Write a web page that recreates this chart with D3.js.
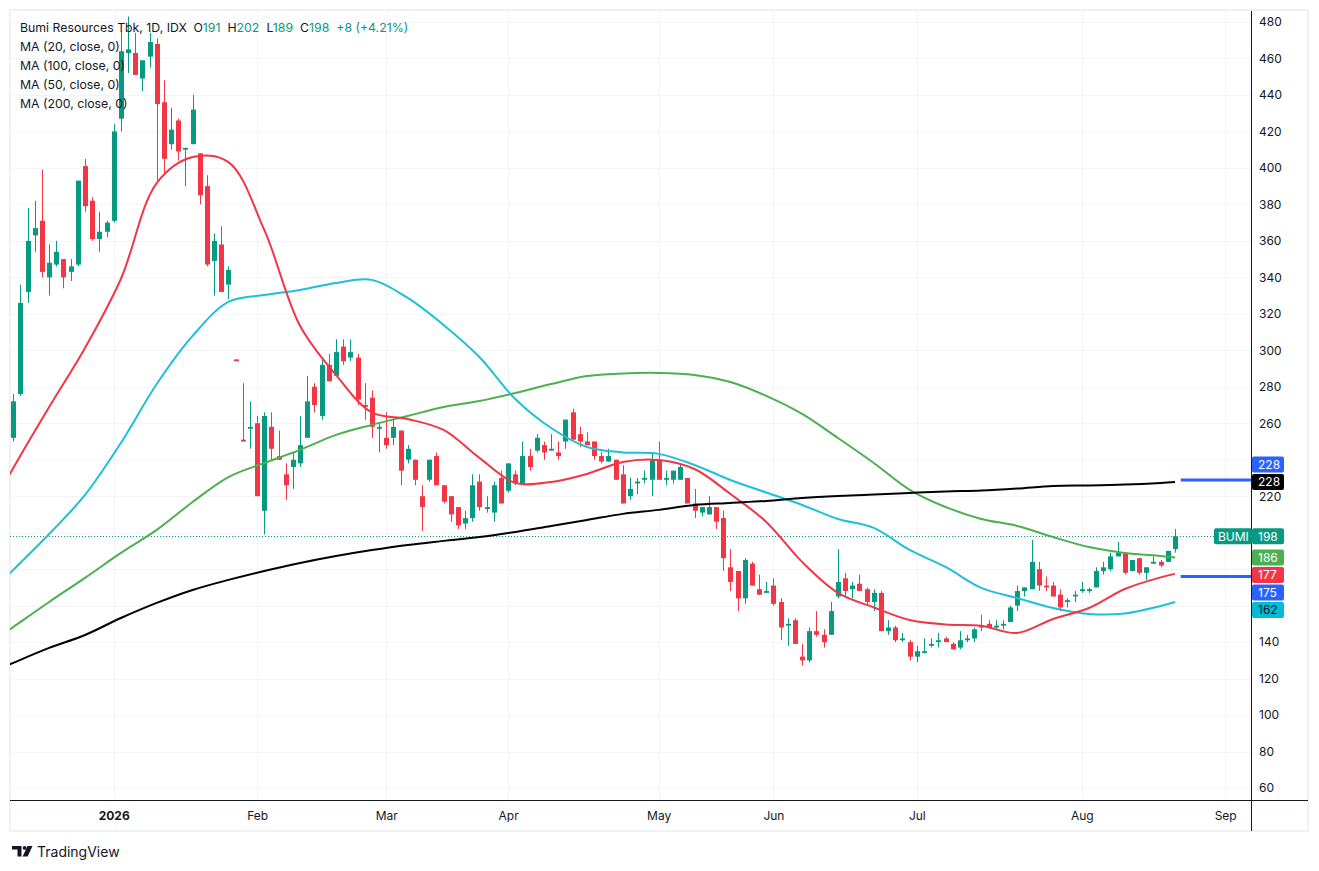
<!DOCTYPE html>
<html>
<head>
<meta charset="utf-8">
<script src="https://cdn.jsdelivr.net/npm/d3@7"></script>
<style>
  body { margin: 0; background: #fff; }
  svg { display: block; font-family: Inter, "Noto Sans", sans-serif; }
</style>
</head>
<body>
<div id="chart"></div>
<script>
// daily candles, Bumi Resources Tbk (IDX), mid Dec 2025 .. Aug 2026
const open = [252,276,332,363,371,340,347,350,343,347, 401,382,361,365,371,427,463,463,449,461,
  468,436,413,426,410,413,408,390,349,358, 336,295,251,257,260,212,258,242,232,236,
  238,252,280,264,292,286,302,296,296,270, 274,257,252,252,256,240,240,220,229,242,
  226,220,214,205,208,228,213,211,230,223, 232,227,242,245,248,245,244,250,266,254,
  250,250,242,239,240,232,220,227,229,229, 240,229,229,229,230,216,211,210,214,208,
  181,179,164,183,169,167,171,162,149,152, 132,130,146,144,144,165,175,169,172,169,
  162,167,146,148,141,140,132,134,138,140, 142,139,137,141,142,148,150,148,149,151,
  160,168,169,180,171,171,166,162,165,168, 168,170,179,180,187,189,179,186,178,183,
  184,184,191];
const high = [276,336,378,382,399,358,360,350,350,393, 405,384,376,371,424,475,483,474,459,474,
  471,448,433,427,411,440,408,396,364,368, 346,295,282,272,264,266,266,256,238,244,
  264,286,282,296,298,306,306,306,298,282, 278,260,266,262,256,248,240,226,240,244,
  226,220,214,212,232,232,220,228,234,238, 234,250,246,254,250,254,250,262,268,258,
  255,250,244,246,240,237,230,230,234,244, 250,234,234,238,230,224,214,220,214,212,
  191,179,186,184,177,173,175,164,153,153, 139,148,157,147,162,191,178,173,177,170,
  169,168,152,149,145,141,138,142,142,145, 143,140,146,144,148,155,152,152,152,160,
  171,170,196,184,176,173,169,164,168,173, 170,181,184,189,195,189,185,186,181,187,
  185,190,202];
const low = [250,275,326,354,340,330,346,334,338,346, 376,360,354,362,370,420,452,451,442,455,
  393,396,410,404,390,413,380,346,330,332, 328,294,250,246,220,199,240,240,218,224,
  236,252,266,262,283,286,292,294,270,262, 252,244,246,248,226,238,226,201,228,226,
  216,206,202,202,206,212,211,206,216,222, 226,227,234,244,240,245,240,246,251,247,
  248,240,238,239,229,216,218,221,227,220, 229,226,227,229,216,208,209,210,202,179,
  168,157,161,171,166,167,160,141,138,139, 127,129,143,137,144,164,165,164,168,160,
  157,146,144,140,140,130,129,134,137,137, 140,136,136,140,140,146,148,147,147,151,
  157,165,169,168,168,165,157,159,162,167, 167,170,177,179,187,177,179,177,174,183,
  181,184,189];
const close = [272,326,360,367,343,348,354,340,346,393, 379,361,365,370,420,464,465,451,459,469,
  435,405,421,409,411,432,385,347,360,332, 344,294,250,258,220,264,246,240,226,240,
  248,272,270,292,283,299,294,299,273,269, 258,258,248,258,234,246,229,214,240,226,
  217,210,204,208,226,214,214,226,216,238, 227,242,236,252,244,246,242,262,251,250,
  248,242,239,242,229,216,224,228,230,240, 229,230,234,236,216,212,214,214,206,186,
  173,164,185,171,166,168,161,148,150,139, 130,146,144,140,157,173,168,171,168,162,
  167,146,148,141,142,132,135,135,139,141, 140,136,141,142,147,149,148,149,150,159,
  168,170,184,171,170,165,159,163,166,169, 169,179,181,187,189,178,185,178,181,184,
  182,190,198];

// moving averages at these candle indices
const maIdx = [-1,0,5,10,15,20,25,30,35,40,45,50,55,60,65,70,75,80,85,90,95,100,105,110,115,120,125,130,135,140,145,150,155,160,162];
const ma20 = [228.4,235.5,268.9,301.3,339.1,391.7,406,403.2,366,313.3,286.5,265.9,262.3,256.3,241,227.3,227.8,232.2,238.8,239.9,
  234.9,221.2,205.9,184,167,159,152.1,149.7,148.9,145,152.7,158.7,169.1,175.5,177.4];
const ma50 = [175.7,179.6,199.3,220.7,249.2,281.5,307.9,326.5,330.3,333.1,336.9,338.6,328.7,313.9,296.3,273.3,257.4,247,244,243.2,
  237.1,228.9,222,215.2,207.5,202.6,190.5,181.2,169.7,164.2,158.7,155.4,155.7,159.8,162];
const ma100 = [145.6,148.3,162,175.2,188.9,201.5,216.8,230.5,238.2,245.4,253.6,259.1,264,268.9,272.2,276.6,281.5,285.9,287.3,287.6,
  286.5,282.6,275,265.1,251.9,238.2,223.5,214.1,207.5,203.7,197.6,192.1,188.9,187.2,186.4];
const ma200 = [126.9,128.6,136.8,143.9,153.2,161.5,168.6,174.1,179,183.4,187.2,190.5,193.3,195.5,197.6,200.4,203.7,207,210.3,212.5,
  215.2,216.3,217.4,219,220.1,220.9,221.8,222.6,223.1,224.2,225.6,225.9,226.4,227.3,227.8];

// two horizontal levels at the right edge
const levels = [228.9, 176.0];
const levelLabels = ["228", "175"];

// time axis: candle index where each month label sits
const monthIdx = [14, 34, 52, 69, 90, 106, 126, 149, 169];
const monthLabels = ["2026", "Feb", "Mar", "Apr", "May", "Jun", "Jul", "Aug", "Sep"];
const priceTicks = d3.range(60, 481, 20);

const W = 1319, H = 871;
const pL = 10, pR = 1251, pT = 11, pB = 800;
const up = "#089981", down = "#f23645";
const ink = "#131722";

const x = d3.scaleLinear().domain([-0.46, 172.6]).range([pL, pR]);
const y = d3.scaleLinear().domain([60, 480]).range([788, 22]);

const svg = d3.select("#chart").append("svg")
  .attr("width", W).attr("height", H);

svg.append("rect").attr("width", W).attr("height", H).attr("fill", "#fff");

// outer frame
svg.append("rect")
  .attr("x", 10).attr("y", 10).attr("width", 1298).attr("height", 821)
  .attr("fill", "none").attr("stroke", "#eff1f5").attr("stroke-width", 2);

svg.append("defs").append("clipPath").attr("id", "plot")
  .append("rect").attr("x", pL).attr("y", pT)
  .attr("width", pR - pL).attr("height", pB - pT);

// grid
const grid = svg.append("g").attr("stroke", "#f3f4f7").attr("stroke-width", 1);
grid.selectAll(".h").data(priceTicks).join("line").attr("class", "h")
  .attr("x1", pL).attr("x2", pR)
  .attr("y1", d => Math.round(y(d)) + 0.5).attr("y2", d => Math.round(y(d)) + 0.5);
grid.selectAll(".v").data(monthIdx).join("line").attr("class", "v")
  .attr("y1", pT).attr("y2", pB)
  .attr("x1", d => Math.round(x(d)) + 0.5).attr("x2", d => Math.round(x(d)) + 0.5);

const plot = svg.append("g").attr("clip-path", "url(#plot)");

// last close dotted line
const last = close.length - 1;
plot.append("line")
  .attr("x1", pL).attr("x2", pR)
  .attr("y1", Math.round(y(close[last])) + 0.5).attr("y2", Math.round(y(close[last])) + 0.5)
  .attr("stroke", up).attr("stroke-width", 1).attr("stroke-dasharray", "1,2");

// candles
const bw = 5;
const candles = plot.append("g").selectAll("g").data(d3.range(close.length)).join("g")
  .attr("fill", i => close[i] < open[i] ? down : up)
  .attr("stroke", i => close[i] < open[i] ? down : up);

candles.append("line")
  .attr("x1", i => Math.round(x(i)) + 0.5).attr("x2", i => Math.round(x(i)) + 0.5)
  .attr("y1", i => y(high[i])).attr("y2", i => y(low[i]))
  .attr("stroke-width", 1);

candles.append("rect")
  .attr("stroke", "none")
  .attr("x", i => Math.round(x(i)) - 2)
  .attr("width", bw)
  .attr("y", i => y(Math.max(open[i], close[i])))
  .attr("height", i => Math.max(1.5, Math.abs(y(open[i]) - y(close[i]))));

// moving averages
const line = d3.line()
  .x(d => x(d[0])).y(d => y(d[1]))
  .curve(d3.curveCatmullRom.alpha(0.5));

const maSeries = [
  { values: ma100, color: "#4caf50" },
  { values: ma50, color: "#1ec0d8" },
  { values: ma20, color: "#f23645" },
  { values: ma200, color: "#000000" }
];
maSeries.forEach(s => {
  plot.append("path")
    .attr("d", line(maIdx.map((k, j) => [k, s.values[j]])))
    .attr("fill", "none").attr("stroke", s.color)
    .attr("stroke-width", 2).attr("stroke-linejoin", "round");
});

// level lines near the price scale
levels.forEach(v => {
  svg.append("line")
    .attr("x1", x(last + 0.8)).attr("x2", pR)
    .attr("y1", y(v)).attr("y2", y(v))
    .attr("stroke", "#2962ff").attr("stroke-width", 3);
});

// axes lines
svg.append("line").attr("x1", pR + 0.5).attr("x2", pR + 0.5)
  .attr("y1", pT).attr("y2", 831).attr("stroke", ink).attr("stroke-width", 1);
svg.append("line").attr("x1", pL).attr("x2", 1308)
  .attr("y1", pB + 0.5).attr("y2", pB + 0.5).attr("stroke", ink).attr("stroke-width", 1);

// price-scale tags, stacked so they do not overlap
const tags = [
  { v: close[last], text: String(close[last]), fill: up, color: "#fff", rank: 5 },
  { v: ma200[ma200.length - 1], text: d3.format(".0f")(ma200[ma200.length - 1]), fill: "#000", color: "#fff", rank: 4 },
  { v: ma100[ma100.length - 1], text: d3.format(".0f")(ma100[ma100.length - 1]), fill: "#4caf50", color: "#fff", rank: 3 },
  { v: ma20[ma20.length - 1], text: d3.format(".0f")(ma20[ma20.length - 1]), fill: "#f23645", color: "#fff", rank: 2 },
  { v: ma50[ma50.length - 1], text: d3.format(".0f")(ma50[ma50.length - 1]), fill: "#00bcd4", color: "#131722", rank: 1 },
  { v: levels[0], text: levelLabels[0], fill: "#2962ff", color: "#fff", rank: 0 },
  { v: levels[1], text: levelLabels[1], fill: "#2962ff", color: "#fff", rank: 0 }
];
const th = 17.5;
tags.forEach(t => { t.y0 = y(t.v); });
tags.sort((a, b) => a.y0 - b.y0);
let cluster = [];
const clusters = [];
tags.forEach((t, i) => {
  if (i > 0 && t.y0 < tags[i - 1].y + th) {
    t.y = tags[i - 1].y + th;
    cluster.push(t);
  } else {
    t.y = t.y0;
    cluster = [t];
    clusters.push(cluster);
  }
});
clusters.forEach(c => {
  const anchor = c.reduce((a, b) => (b.rank > a.rank ? b : a));
  const shift = anchor.y0 - anchor.y;
  c.forEach(t => { t.y += shift; });
});

// price axis (labels hidden under a tag are left out)
const shownTicks = priceTicks.filter(v => !tags.some(t => Math.abs(t.y - y(v)) < 10));
const yAxis = svg.append("g")
  .attr("transform", `translate(${pR},0)`)
  .call(d3.axisRight(y).tickValues(shownTicks).tickSize(0).tickPadding(8));
yAxis.select(".domain").remove();
yAxis.selectAll("text").attr("fill", ink).style("font-size", "12px")
  .style("font-family", "Inter, sans-serif");

// time axis
const xAxis = svg.append("g")
  .attr("transform", `translate(0,${pB})`)
  .call(d3.axisBottom(x).tickValues(monthIdx).tickSize(0).tickPadding(11)
    .tickFormat((d, i) => monthLabels[i]));
xAxis.select(".domain").remove();
xAxis.selectAll("text").attr("fill", ink).style("font-size", "12px")
  .style("font-family", "Inter, sans-serif")
  .style("font-weight", (d, i) => i === 0 ? "700" : "400");

const tagG = svg.append("g");
tags.forEach(t => {
  const g = tagG.append("g").attr("transform", `translate(${pR + 1},${t.y})`);
  g.append("rect").attr("x", 0).attr("y", -8).attr("width", 32).attr("height", 16)
    .attr("rx", 2).attr("fill", t.fill);
  g.append("text").attr("x", 6).attr("dy", "0.35em").attr("fill", t.color)
    .style("font-size", "12px").text(t.text);
});

// symbol label beside the last price
const lastTag = tags.find(t => t.rank === 5);
const sym = svg.append("g").attr("transform", `translate(${pR - 37},${lastTag.y})`);
sym.append("rect").attr("x", 0).attr("y", -8).attr("width", 38).attr("height", 16)
  .attr("rx", 2).attr("fill", up);
sym.append("text").attr("x", 4).attr("dy", "0.35em").attr("fill", "#fff")
  .style("font-size", "12px").text("BUMI");

// legend
const fmtChg = d3.format("+.0f");
const chg = close[last] - close[last - 1];
const pct = chg / close[last - 1] * 100;
const legend = svg.append("g").style("font-size", "12.3px");
const head = legend.append("text").attr("x", 20).attr("y", 32).attr("fill", ink);
head.append("tspan").text("Bumi Resources Tbk, 1D, IDX");
[["O", open[last]], ["H", high[last]], ["L", low[last]], ["C", close[last]]].forEach(([k, v], i) => {
  head.append("tspan").attr("dx", 7).text(k);
  head.append("tspan").attr("fill", up).text(v);
});
head.append("tspan").attr("dx", 7).attr("fill", up)
  .text(`${fmtChg(chg)} (+${d3.format(".2f")(pct)}%)`);

["MA (20, close, 0)", "MA (100, close, 0)", "MA (50, close, 0)", "MA (200, close, 0)"].forEach((s, i) => {
  legend.append("text").attr("x", 20).attr("y", 51 + i * 19).attr("fill", ink).text(s);
});

// watermark
const wm = svg.append("g").attr("transform", "translate(12,846)").attr("fill", ink);
wm.append("path").attr("d", "M0,0 H9.5 V10.5 H5.5 V3.6 H0 Z");
wm.append("circle").attr("cx", 12.6).attr("cy", 1.9).attr("r", 1.9);
wm.append("path").attr("d", "M15.5,0 H20.5 L15.6,10.5 H10.6 Z");
wm.append("text").attr("x", 25).attr("y", 10.5).style("font-size", "14px").text("TradingView");
</script>
</body>
</html>
